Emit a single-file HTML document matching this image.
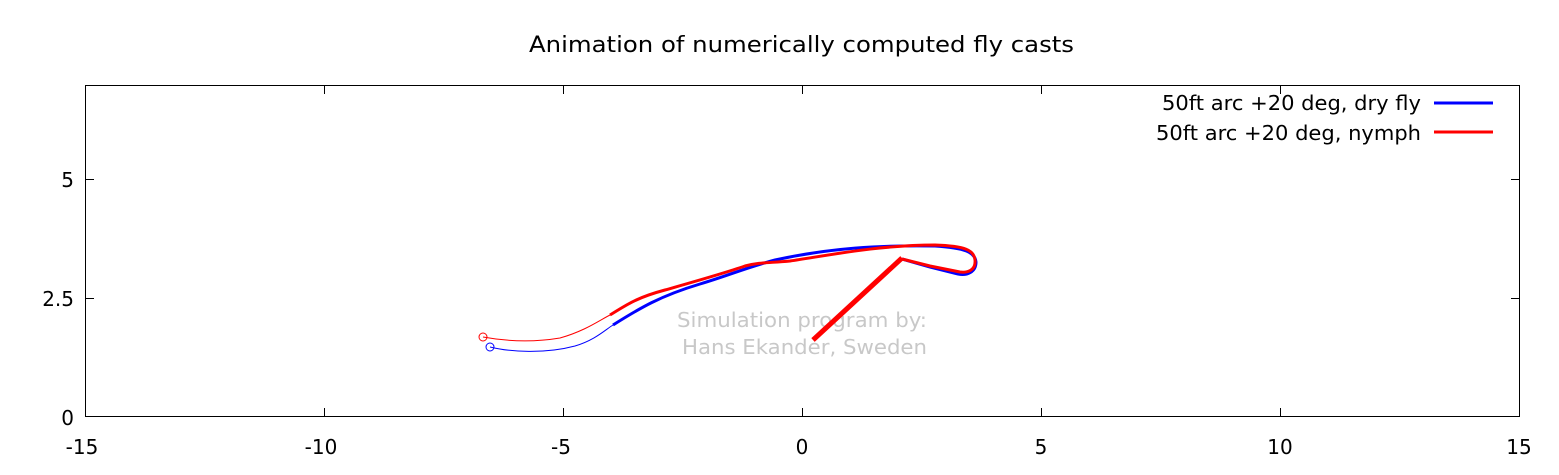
<!DOCTYPE html>
<html><head><meta charset="utf-8"><style>body{margin:0;background:#fff}svg{display:block}text{font-family:"DejaVu Sans","Liberation Sans",sans-serif}</style></head><body>
<svg width="1559" height="475" xmlns="http://www.w3.org/2000/svg">
<text x="529" y="52" font-size="22" textLength="545" lengthAdjust="spacingAndGlyphs">Animation of numerically computed fly casts</text>
<rect x="85.5" y="85.5" width="1434" height="331" fill="none" stroke="#000" stroke-width="1"/>
<g stroke="#000" stroke-width="1">
<line x1="85" y1="179.5" x2="94" y2="179.5"/><line x1="1520" y1="179.5" x2="1511" y2="179.5"/>
<line x1="85" y1="298.5" x2="94" y2="298.5"/><line x1="1520" y1="298.5" x2="1511" y2="298.5"/>
<line x1="324.5" y1="417" x2="324.5" y2="408"/><line x1="324.5" y1="85" x2="324.5" y2="94"/>
<line x1="563.5" y1="417" x2="563.5" y2="408"/><line x1="563.5" y1="85" x2="563.5" y2="94"/>
<line x1="802.5" y1="417" x2="802.5" y2="408"/><line x1="802.5" y1="85" x2="802.5" y2="94"/>
<line x1="1041.5" y1="417" x2="1041.5" y2="408"/><line x1="1041.5" y1="85" x2="1041.5" y2="94"/>
<line x1="1280.5" y1="417" x2="1280.5" y2="408"/><line x1="1280.5" y1="85" x2="1280.5" y2="94"/>
</g>
<g font-size="20" text-anchor="end">
<text x="74" y="187">5</text><text x="74" y="306">2.5</text><text x="74" y="425">0</text>
</g>
<g font-size="20" text-anchor="middle">
<text x="82" y="454">-15</text><text x="321" y="454">-10</text><text x="561" y="454">-5</text><text x="802" y="454">0</text><text x="1041" y="454">5</text><text x="1280" y="454">10</text><text x="1519" y="454">15</text>
</g>
<g font-size="20" fill="#c8c8c8">
<text x="677" y="327" textLength="250" lengthAdjust="spacingAndGlyphs">Simulation program by:</text>
<text x="682" y="354" textLength="245" lengthAdjust="spacingAndGlyphs">Hans Ekander, Sweden</text>
</g>
<g font-size="20">
<text x="1162" y="110" textLength="259" lengthAdjust="spacingAndGlyphs">50ft arc +20 deg, dry fly</text>
<text x="1156" y="140" textLength="265" lengthAdjust="spacingAndGlyphs">50ft arc +20 deg, nymph</text>
</g>
<line x1="1434" y1="103" x2="1493" y2="103" stroke="#00f" stroke-width="3"/>
<line x1="1434" y1="132" x2="1493" y2="132" stroke="#f00" stroke-width="3"/>
<g fill="none" stroke-linejoin="round">
<circle cx="490" cy="347" r="4" stroke="#00f" stroke-width="1"/>
<path d="M490,347 C510,352 545,354 575,346 C595,340 605,330 613,325" stroke="#00f" stroke-width="1"/>
<path d="M613,325 C640,308 660,296 700,284 C730,275 745,268 775,260 C830,248 880,245 935,246 C965,248 975,252 976,262 C976,272 967,276 958,274 L930,267 L902,259" stroke="#00f" stroke-width="3"/>
<circle cx="483" cy="337" r="4" stroke="#f00" stroke-width="1"/>
<path d="M483,337 C505,341 530,343 560,338 C585,331 600,320 610,315" stroke="#f00" stroke-width="1"/>
<path d="M610,315 C625,306 635,298 665,290 C700,280 725,273 745,266 C760,262 770,263 790,261 C830,255 880,245 935,245 C965,246 974,250 975,260 C976,270 968,273 960,272 L930,266 L902,259" stroke="#f00" stroke-width="3"/>
<path d="M813,340 L902,258" stroke="#f00" stroke-width="5"/>
</g>
</svg>
</body></html>
